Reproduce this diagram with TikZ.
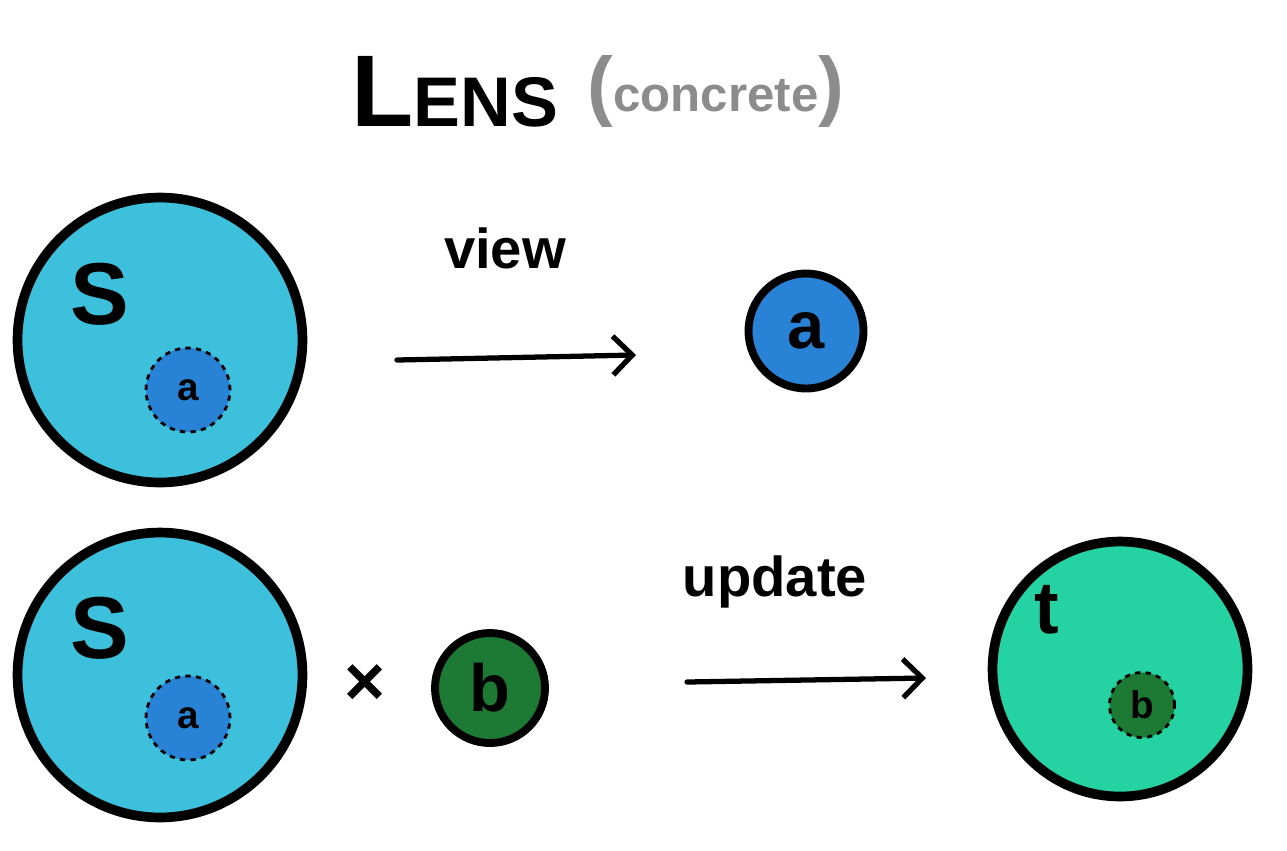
\documentclass[tikz,border=0pt]{standalone}
\usepackage{fontspec}
\setmainfont{Liberation Sans}
\usetikzlibrary{arrows.meta}

\definecolor{scyan}{HTML}{3CC0DC}
\definecolor{ablue}{HTML}{2882D6}
\definecolor{bgreen}{HTML}{1C7A34}
\definecolor{tteal}{HTML}{24D3A1}

\tikzset{
  bigset/.style={circle, draw, line width=5.5pt, minimum size=5.7cm, inner sep=0pt},
  elem/.style={circle, draw, line width=4.5pt, minimum size=#1, inner sep=0pt},
  part/.style={circle, draw, dashed, line width=1.6pt, minimum size=#1, inner sep=0pt},
  lbl/.style={font=\fontsize{#1}{#1}\selectfont\bfseries},
  arr/.style={line width=3pt, line cap=round, -{Straight Barb[length=11pt, width=22pt, line width=3pt]}}
}

\begin{document}
\begin{tikzpicture}[x=0.02cm, y=-0.02cm]
                \useasboundingbox (0,0) rectangle (1287,850);

                \node (title) at (455,92) {\bfseries\fontsize{58}{58}\selectfont L\fontsize{40}{40}\selectfont ENS};
                \node[text=gray!90, lbl=28] (conc) at (716,92) {{\fontsize{44}{44}\selectfont(}concrete{\fontsize{44}{44}\selectfont)}};

                \node[bigset, fill=scyan] (s1) at (160,340) {};
                \node[lbl=50] (s1l) at (100,294) {S};
                \node[part=1.68cm, fill=ablue, lbl=22] (a1) at (188,390) {a};

                \node[lbl=32] (view) at (505,248) {view};
                \coordinate (v1) at (397,360);
                \coordinate (v2) at (636,355);
                \draw[arr] (v1) -- (v2);

                \node[elem=2.3cm, fill=ablue, lbl=38] (a2) at (806,331) {a};

                \node[bigset, fill=scyan] (s2) at (160,675) {};
                \node[lbl=50] (s2l) at (100,628) {S};
                \node[part=1.68cm, fill=ablue, lbl=22] (a3) at (188,718) {a};

                \node[lbl=40] (times) at (365,685) {×};
                \node[elem=2.2cm, fill=bgreen, lbl=38] (b1) at (490,688) {b};

                \node[lbl=32] (update) at (775,582) {update};
                \coordinate (u1) at (687,682);
                \coordinate (u2) at (926,678);
                \draw[arr] (u1) -- (u2);

                \node[bigset, minimum size=5.1cm, fill=tteal] (t1) at (1120,669) {};
                \node[lbl=42] (t1l) at (1047,610) {t};
                \node[part=1.3cm, fill=bgreen, lbl=22] (b2) at (1142,705) {b};
            \end{tikzpicture}
\end{document}
